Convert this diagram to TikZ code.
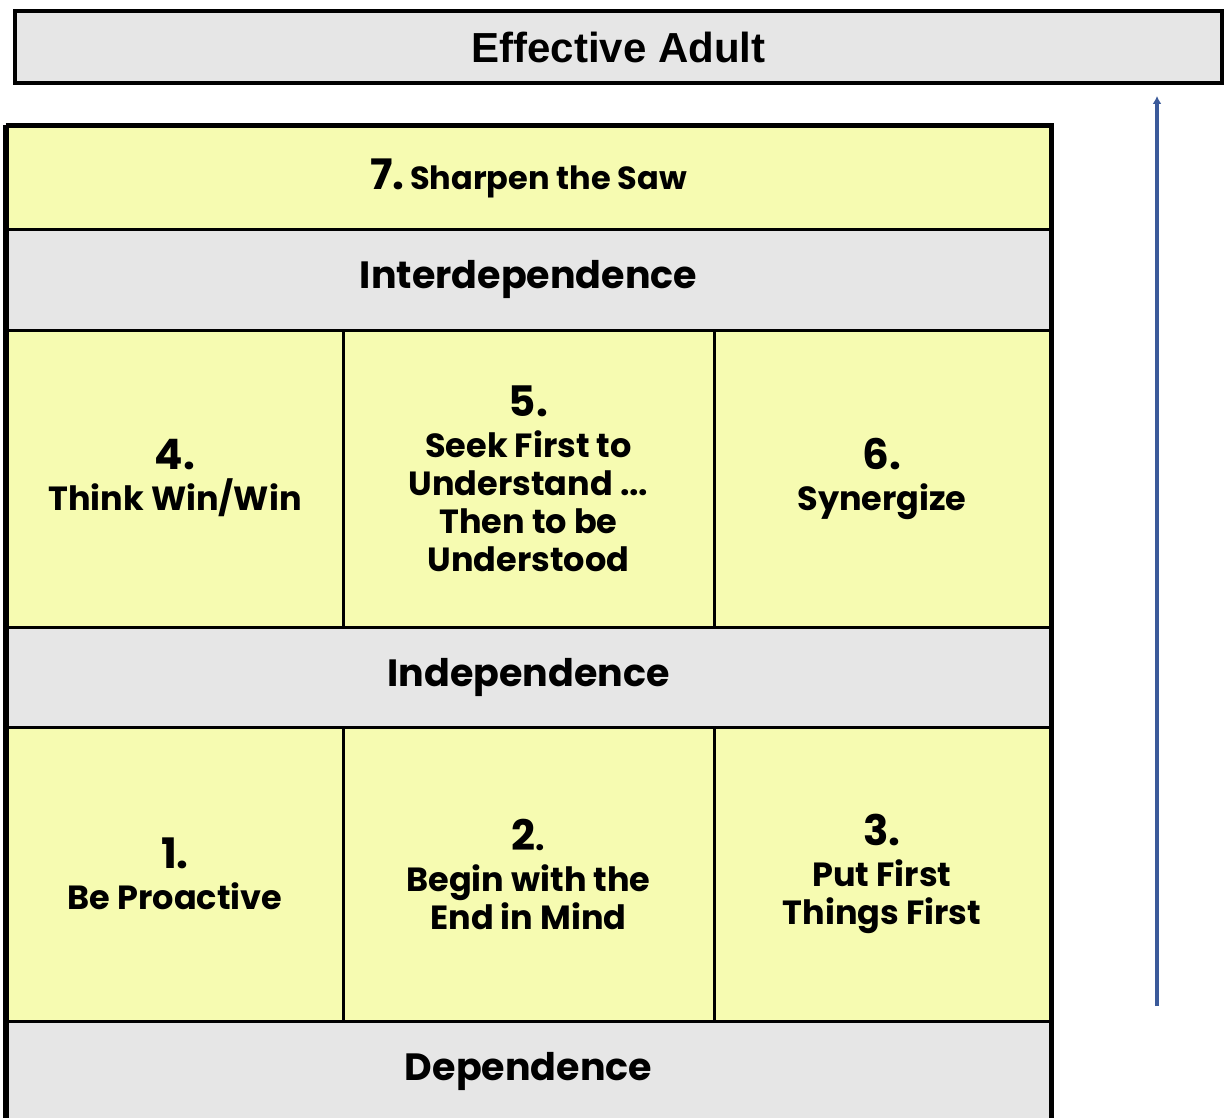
\documentclass[tikz,border=0pt]{standalone}
\usepackage{fontspec}
\setmainfont{Poppins}
\newfontfamily\headfont{Liberation Sans}
\usetikzlibrary{arrows.meta}
\definecolor{cellyellow}{HTML}{F6FBB1}
\definecolor{bandgray}{HTML}{E6E6E6}
\definecolor{arrowblue}{HTML}{3B5A9A}
\newcommand{\habitnum}[1]{{\fontsize{42}{42}\selectfont #1}}
\begin{document}
\begin{tikzpicture}[x=1pt,y=-1pt,
  cell/.style={draw=black, line width=3pt, inner sep=0pt, align=center,
    font=\bfseries\fontsize{33.5}{38}\selectfont},
  habit/.style={cell, fill=cellyellow},
  band/.style={cell, fill=bandgray, font=\bfseries\fontsize{38}{40}\selectfont},
  pointer/.style={draw=arrowblue, line width=3.4pt, -{Latex[length=8pt,width=9pt]}}
]
\useasboundingbox (0,0) rectangle (1225,1118);
\clip (0,0) rectangle (1225,1118);

% title banner
\node[draw=black, line width=4pt, fill=bandgray, minimum width=1207pt, minimum height=72pt,
      font=\headfont\bfseries\fontsize{42}{42}\selectfont] (adult) at (618.5,47) {Effective Adult};

% habit 7
\node[habit, minimum width=1043pt, minimum height=102pt] (h7) at (528.5,178)
  {\habitnum{7.}\,{\fontsize{32}{32}\selectfont Sharpen the Saw}};

% interdependence band
\node[band, minimum width=1043pt, minimum height=101pt] (inter) at (528.5,279.5) {Interdependence};

% habits 4, 5, 6
\node[habit, minimum width=336pt, minimum height=297pt] (h4) at (175,478.5)
  {\habitnum{4.}\\[3pt] Think Win/Win};
\node[habit, minimum width=371pt, minimum height=297pt] (h5) at (528.5,478.5)
  {\habitnum{5.}\\[3pt] Seek First to\\ Understand ...\\ Then to be\\ Understood};
\node[habit, minimum width=336pt, minimum height=297pt] (h6) at (882,478.5)
  {\habitnum{6.}\\[3pt] Synergize};

% independence band
\node[band, minimum width=1043pt, minimum height=100pt] (indep) at (528.5,677) {Independence};

% habits 1, 2, 3
\node[habit, minimum width=336pt, minimum height=294pt] (h1) at (175,874)
  {\habitnum{1.}\\[3pt] Be Proactive};
\node[habit, minimum width=371pt, minimum height=294pt] (h2) at (528.5,874)
  {\habitnum{2}.\\[3pt] Begin with the\\ End in Mind};
\node[habit, minimum width=336pt, minimum height=294pt] (h3) at (882,874)
  {\habitnum{3.}\\[3pt] Put First\\ Things First};

% dependence band
\node[band, minimum width=1043pt, minimum height=100pt] (dep) at (528.5,1071) {Dependence};

% heavier outer frame of the grid
\draw[line width=4.5pt] (h7.north west) -- (h7.north east) -- (dep.south east);
\draw[line width=4.5pt] (h7.north west) -- (dep.south west);

% growth arrow
\coordinate (foot) at (1157,1006);
\coordinate (tip) at (1157,96);
\draw[pointer] (foot) -- (tip);
\end{tikzpicture}
\end{document}
